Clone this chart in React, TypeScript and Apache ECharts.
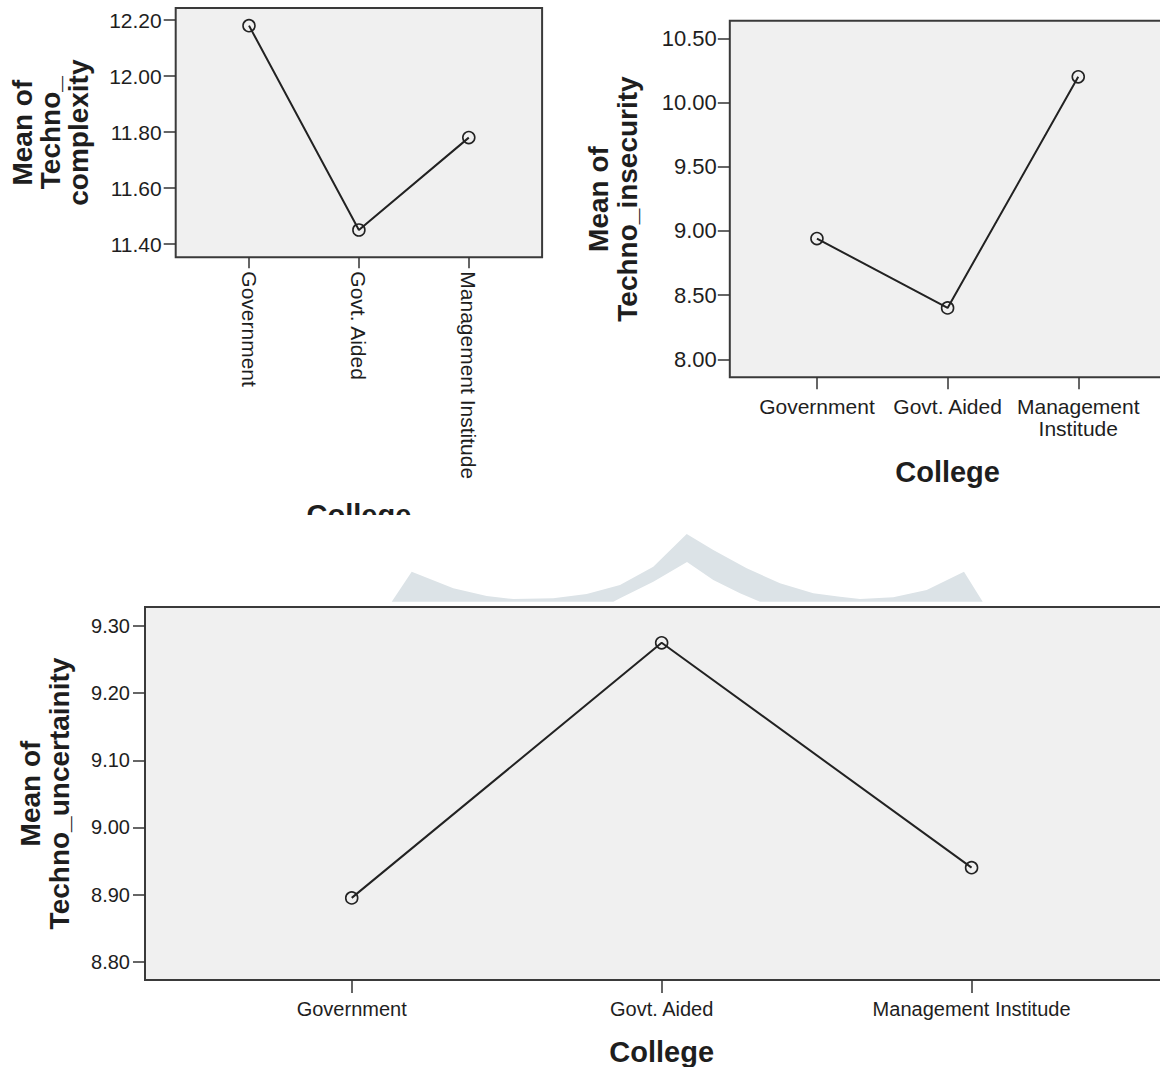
import React, { useEffect, useRef } from 'react';
import * as echarts from 'echarts';

// ---- data ----
const categories = ['Government', 'Govt. Aided', 'Management Institude'];
const catPositions = [0, 1, 2];
const complexityMeans = [12.18, 11.45, 11.78];
const insecurityMeans = [8.94, 8.4, 10.2];
const uncertaintyMeans = [8.895, 9.275, 8.94];
const complexityTicks = [11.4, 11.6, 11.8, 12.0, 12.2];
const insecurityTicks = [8.0, 8.5, 9.0, 9.5, 10.0, 10.5];
const uncertaintyTicks = [8.8, 8.9, 9.0, 9.1, 9.2, 9.3];
const xTitle = 'College';
const yTitle1 = 'Mean of\nTechno_\ncomplexity';
const yTitle2 = 'Mean of\nTechno_insecurity';
const yTitle3 = 'Mean of\nTechno_uncertainity';

const FONT = "'Liberation Sans', Arial, Helvetica, sans-serif";
const TXT = '#1e1e1e';
const AX = '#333333';

function toPoints(vals: number[]) {
  return vals.map((v, i) => [catPositions[i], v]);
}

function makeX(gridIndex: number, o: any) {
  return {
    type: 'value',
    gridIndex,
    min: -0.667,
    max: 2.667,
    splitLine: { show: false },
    axisLine: { show: false, onZero: false },
    axisTick: {
      show: true,
      customValues: catPositions,
      length: o.tickLen,
      lineStyle: { color: AX, width: 1.5 },
    },
    axisLabel: {
      customValues: catPositions,
      formatter: (v: number) => o.fmt(categories[Math.round(v)] || ''),
      fontSize: o.fontSize,
      fontFamily: FONT,
      color: TXT,
      margin: o.margin,
      rotate: o.rotate || 0,
      lineHeight: o.lineHeight || o.fontSize + 2,
    },
    name: xTitle,
    nameLocation: 'middle',
    nameGap: o.nameGap,
    nameTextStyle: { fontSize: 29, fontWeight: 'bold', fontFamily: FONT, color: TXT },
  };
}

function makeY(gridIndex: number, o: any) {
  return {
    type: 'value',
    gridIndex,
    min: o.min,
    max: o.max,
    splitLine: { show: false },
    axisLine: { show: false, onZero: false },
    axisTick: {
      show: true,
      customValues: o.ticks,
      length: 12,
      lineStyle: { color: AX, width: 1.5 },
    },
    axisLabel: {
      customValues: o.ticks,
      formatter: (v: number) => v.toFixed(2),
      fontSize: o.fontSize,
      fontFamily: FONT,
      color: TXT,
      margin: o.margin,
    },
    name: o.name,
    nameLocation: 'middle',
    nameGap: o.nameGap,
    nameTextStyle: {
      fontSize: 28,
      fontWeight: 'bold',
      fontFamily: FONT,
      color: TXT,
      lineHeight: o.nameLineHeight,
    },
  };
}

function makeSeries(idx: number, vals: number[]) {
  return {
    type: 'line',
    xAxisIndex: idx,
    yAxisIndex: idx,
    data: toPoints(vals),
    symbol: 'circle',
    symbolSize: 12,
    lineStyle: { color: '#222', width: 2 },
    itemStyle: { color: 'rgba(0,0,0,0)', borderColor: '#222', borderWidth: 1.6 },
    z: 5,
  };
}

const gridBase = {
  show: true,
  backgroundColor: '#f0f0f0',
  borderColor: '#3a3a3a',
  borderWidth: 2,
  containLabel: false,
};

// watermark outline (decorative background shape)
const watermark = [
  [391.7, 601.7], [411.7, 571.7], [453.3, 588.3], [486.7, 596], [513.3, 599],
  [553.3, 598.3], [586.7, 594], [620, 585], [653.3, 566.7], [686.7, 534],
  [713.3, 550], [746.7, 568.3], [780, 583.3], [813.3, 593.3], [840, 596.7],
  [860, 599], [893.3, 597.3], [926.7, 590], [964, 571.7], [982.7, 601.7],
  [760, 601.7], [740, 593.3], [713.3, 580], [687, 562], [653.3, 581.7],
  [620, 598.3], [613.3, 601.7],
];

export default function App() {
  const ref = useRef<HTMLDivElement>(null);
  useEffect(() => {
    if (!ref.current) return;
    const chart = echarts.init(ref.current, undefined, { renderer: 'svg' });
    chart.setOption({
      animation: false,
      backgroundColor: '#ffffff',
      grid: [
        { ...gridBase, left: 175.7, top: 8, width: 366.4, height: 249.3 },
        { ...gridBase, left: 729.8, top: 20.7, width: 435.6, height: 356.6 },
        { ...gridBase, left: 145, top: 607, width: 1033.3, height: 373 },
      ],
      xAxis: [
        makeX(0, { tickLen: 11, fontSize: 21, margin: 14, rotate: -90, nameGap: 243, fmt: (s: string) => s }),
        makeX(1, { tickLen: 12, fontSize: 21, margin: 18, lineHeight: 22, nameGap: 80, fmt: (s: string) => s.replace('Management ', 'Management\n') }),
        makeX(2, { tickLen: 13, fontSize: 20, margin: 18, nameGap: 57, fmt: (s: string) => s }),
      ],
      yAxis: [
        makeY(0, { min: 11.3525, max: 12.243, ticks: complexityTicks, fontSize: 21, margin: 14, name: yTitle1, nameGap: 83, nameLineHeight: 28 }),
        makeY(1, { min: 7.86, max: 10.637, ticks: insecurityTicks, fontSize: 22, margin: 13, name: yTitle2, nameGap: 88, nameLineHeight: 29 }),
        makeY(2, { min: 8.7727, max: 9.3283, ticks: uncertaintyTicks, fontSize: 20, margin: 15, name: yTitle3, nameGap: 71, nameLineHeight: 29 }),
      ],
      series: [
        makeSeries(0, complexityMeans),
        makeSeries(1, insecurityMeans),
        makeSeries(2, uncertaintyMeans),
      ],
      graphic: [
        {
          type: 'polygon',
          z: -1,
          silent: true,
          shape: { points: watermark },
          style: { fill: '#dce3e7' },
        },
        {
          type: 'rect',
          z: 100,
          silent: true,
          shape: { x: 250, y: 515, width: 220, height: 20 },
          style: { fill: '#ffffff' },
        },
      ],
    });
    return () => chart.dispose();
  }, []);
  return (
    <div style={{ position: 'fixed', left: 0, top: 0, width: 1160, height: 1067, overflow: 'hidden', background: '#fff' }}>
      <div ref={ref} style={{ width: 1200, height: 1067 }} />
    </div>
  );
}
